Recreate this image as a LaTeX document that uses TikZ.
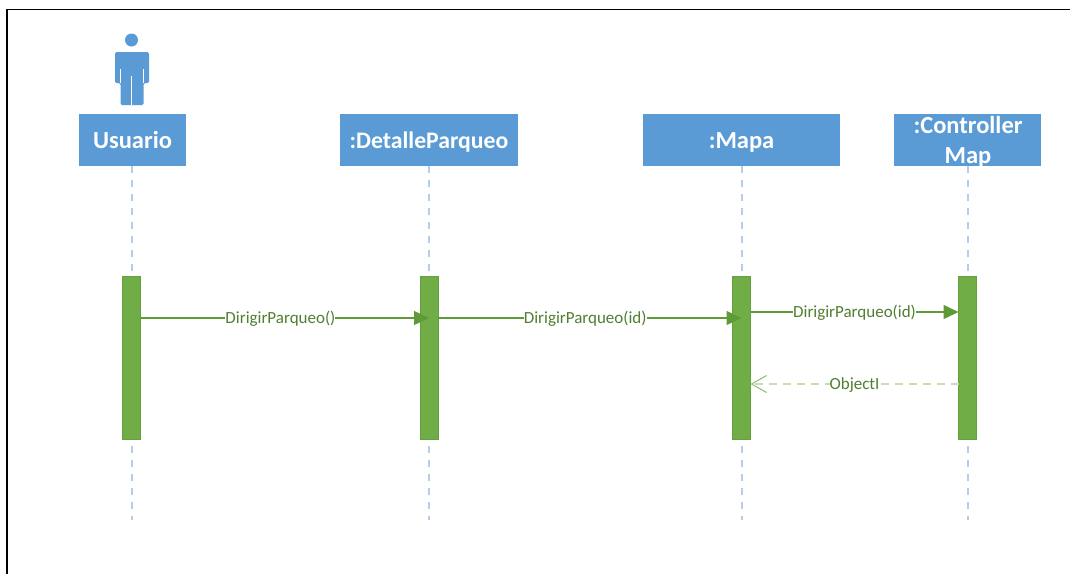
\documentclass[tikz,border=0pt]{standalone}
\usepackage{fontspec}
\setmainfont{Carlito}
\usetikzlibrary{arrows.meta}
\definecolor{boxblue}{HTML}{5B9BD5}
\definecolor{linablue}{HTML}{B4CDEA}
\definecolor{barverde}{HTML}{70AD47}
\definecolor{bordeverde}{HTML}{65A03E}
\definecolor{msgverde}{HTML}{5F9A38}
\definecolor{textverde}{HTML}{4F7F30}
\definecolor{retverde}{HTML}{C6DDB6}
\begin{document}
\begin{tikzpicture}
  [x=1pt,y=-1pt,
   objeto/.style={rectangle,fill=boxblue,text=white,align=center,outer sep=0,
                  minimum height=52pt,inner sep=0,text height=18pt,text depth=2pt,
                  font=\fontsize{24.5}{30}\selectfont\bfseries},
   activa/.style={rectangle,fill=barverde,draw=bordeverde,thick,outer sep=0,
                  inner sep=0,minimum width=18pt,minimum height=163pt},
   vida/.style={linablue,line width=2pt,dash pattern=on 7pt off 7pt},
   mensaje/.style={msgverde,line width=1.4pt,-{Triangle[length=15pt,width=14pt]}},
   retorno/.style={retverde,line width=2pt,dash pattern=on 8pt off 6pt,
                   -{Straight Barb[msgverde!70,length=15pt,width=17pt,line width=1pt]}},
   etiqueta/.style={fill=white,inner xsep=0pt,inner ysep=1pt,text=textverde,yshift=-1pt,
                    font=\fontsize{17}{17}\selectfont}]
  \useasboundingbox (0,0) rectangle (1070,574);
  % marco
  \draw[black,line width=1.6pt] (7,574) -- (7,9.5) -- (1070,9.5);
  % actor
  \fill[boxblue] (131.5,40) circle (6.5);
  \fill[boxblue,rounded corners=1.5pt] (115,52) -- (149,52) -- (149,83) -- (143.5,83)
    -- (143.5,105) -- (120.5,105) -- (120.5,83) -- (115,83) -- cycle;
  \draw[white,line width=1.2pt] (120.5,69) -- (120.5,83);
  \draw[white,line width=1.2pt] (143.5,69) -- (143.5,83);
  \draw[white,line width=1.2pt] (131.5,76) -- (131.5,105);
  % objetos
  \node[objeto,minimum width=107pt] (usuario) at (132.5,140) {Usuario};
  \node[objeto,minimum width=178pt,font=\fontsize{23.7}{30}\selectfont\bfseries] (detalle) at (429,140) {:DetalleParqueo};
  \node[objeto,minimum width=197pt] (mapa) at (741.5,140) {:Mapa};
  \node[objeto,minimum width=147pt,text height=,text depth=] (controller) at (967.5,140) {};
  \node[text=white,align=center,inner sep=0,font=\fontsize{24.5}{30}\selectfont\bfseries]
    (controllertxt) at (968,141.5) {:Controller\\Map};
  \coordinate (finusuario) at (131.5,520);
  \coordinate (findetalle) at (429,520);
  \coordinate (finmapa) at (741.5,520);
  \coordinate (fincontroller) at (967.5,520);
  \draw[vida] (usuario.south -| finusuario) -- (finusuario);
  \draw[vida] (detalle.south) -- (findetalle);
  \draw[vida] (mapa.south) -- (finmapa);
  \draw[vida] (controller.south) -- (fincontroller);
  % activaciones
  \node[activa] (barusuario) at (131.5,358) {};
  \node[activa] (bardetalle) at (429,358) {};
  \node[activa] (barmapa) at (741.5,358) {};
  \node[activa] (barcontroller) at (967.5,358) {};
  % mensajes
  \draw[mensaje] ([yshift=40pt]barusuario.east) -- ([yshift=40pt]bardetalle.center)
    node[pos=0.485,etiqueta] (msguno) {DirigirParqueo()};
  \draw[mensaje] ([yshift=40pt]bardetalle.east) -- ([yshift=40pt]barmapa.center)
    node[pos=0.485,etiqueta] (msgdos) {DirigirParqueo(id)};
  \draw[mensaje] ([yshift=46pt]barmapa.east) -- ([yshift=46pt]barcontroller.west)
    node[pos=0.5,etiqueta] (msgtres) {DirigirParqueo(id)};
  \draw[retorno] ([yshift=-26pt]barcontroller.west) -- ([yshift=-26pt]barmapa.east)
    node[pos=0.5,etiqueta] (msgcuatro) {ObjectI};
\end{tikzpicture}
\end{document}
